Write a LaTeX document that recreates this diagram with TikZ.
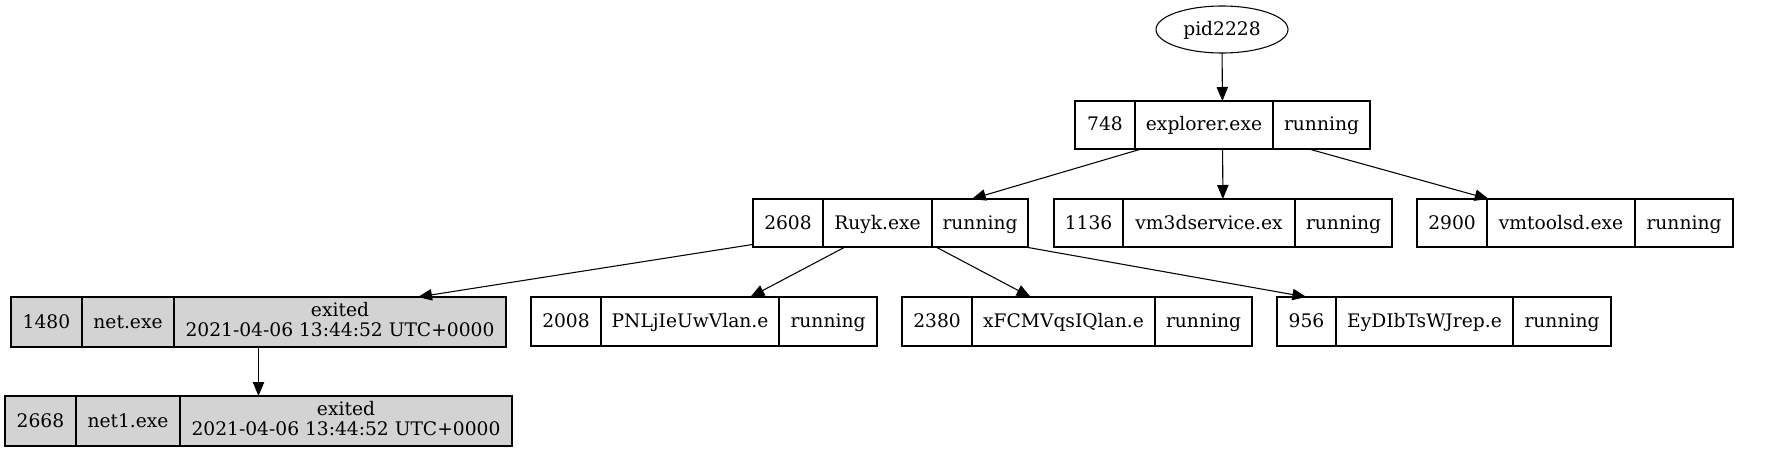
\documentclass[tikz,border=0pt]{standalone}
\usepackage{fontspec}
\setmainfont{DejaVu Serif}
\usetikzlibrary{shapes.geometric,arrows.meta}
\definecolor{gvgray}{HTML}{D3D3D3}
\tikzset{
  rec/.style={draw=black,line width=0.8pt,inner sep=0pt,outer sep=0pt,rectangle},
  grayrec/.style={fill=gvgray},
  recline/.style={draw=black,line width=0.8pt},
  txt/.style={inner sep=0pt,outer sep=0pt,text height=12pt,text depth=3pt,font=\fontsize{14}{16}\selectfont},
  edge/.style={draw=black,line width=0.8pt,-{Triangle[length=10.5pt,width=8.5pt]}},
  ell/.style={draw=black,line width=0.8pt,ellipse,inner sep=0pt,outer sep=0pt,minimum width=99pt,minimum height=35.25pt}
}
\newcommand\recbox[6]{%
  \def\rn{#2}\def\rxa{#3}\def\rxb{#4}\def\rya{#5}\def\ryb{#6}%
  \node[rec,#1,minimum width={(#4-#3)*0.75pt},minimum height={(#6-#5)*0.75pt}] (#2) at ({(#3+#4)/2},{(#5+#6)/2}) {};}
\newcommand\recfields[5]{%
  \draw[recline] (#1,\rya) -- (#1,\ryb);
  \draw[recline] (#2,\rya) -- (#2,\ryb);
  \node[txt] (\rn-1) at ({(\rxa+#1)/2},{(\rya+\ryb)/2}) {#3};
  \node[txt] (\rn-2) at ({(#1+#2)/2},{(\rya+\ryb)/2}) {#4};
  \node[txt] (\rn-3) at ({(#2+\rxb)/2},{(\rya+\ryb)/2}) {#5};}
\newcommand\recfieldsx[6]{%
  \draw[recline] (#1,\rya) -- (#1,\ryb);
  \draw[recline] (#2,\rya) -- (#2,\ryb);
  \node[txt] (\rn-1) at ({(\rxa+#1)/2},{(\rya+\ryb)/2}) {#3};
  \node[txt] (\rn-2) at ({(#1+#2)/2},{(\rya+\ryb)/2}) {#4};
  \node[txt] (\rn-3a) at ({(#2+\rxb)/2},{(\rya+\ryb)/2-11.3}) {#5};
  \node[txt] (\rn-3b) at ({(#2+\rxb)/2},{(\rya+\ryb)/2+8.7}) {#6};}
\begin{document}
\begin{tikzpicture}[x=0.75pt,y=-0.75pt]
\useasboundingbox (0,0) rectangle (1775,453);
% root
\node[ell] (pid) at (1222,29.5) {};
\node[txt] (pidtxt) at (1222,29.5) {pid2228};
% level 1
\recbox{}{explorer}{1075}{1370}{101}{149}
\recfields{1135}{1273}{748}{explorer.exe}{running}
% level 2
\recbox{}{ruyk}{753}{1028}{199}{247}
\recfields{823}{932}{2608}{Ruyk.exe}{running}
\recbox{}{vmthree}{1054}{1392}{199}{247}
\recfields{1123}{1295}{1136}{vm3dservice.ex}{running}
\recbox{}{vmtools}{1417}{1733}{199}{247}
\recfields{1487}{1635}{2900}{vmtoolsd.exe}{running}
% level 3
\recbox{grayrec}{net}{11}{506}{297}{347}
\recfieldsx{82}{174}{1480}{net.exe}{exited}{2021-04-06 13:44:52 UTC+0000}
\recbox{}{pnl}{531}{877}{297}{346}
\recfields{601}{779}{2008}{PNLjIeUwVlan.e}{running}
\recbox{}{xfc}{902}{1252}{297}{346}
\recfields{972}{1155}{2380}{xFCMVqsIQlan.e}{running}
\recbox{}{eyd}{1277}{1611}{297}{346}
\recfields{1336}{1513}{956}{EyDIbTsWJrep.e}{running}
% level 4
\recbox{grayrec}{netone}{5}{512}{396}{446}
\recfieldsx{76}{180}{2668}{net1.exe}{exited}{2021-04-06 13:44:52 UTC+0000}
% edges
\draw[edge] (pid) -- (explorer);
\draw[edge] (explorer) -- (ruyk);
\draw[edge] (explorer) -- (vmthree);
\draw[edge] (explorer) -- (vmtools);
\draw[edge] (ruyk) -- (net);
\draw[edge] (ruyk) -- (pnl);
\draw[edge] (ruyk) -- (xfc);
\draw[edge] (ruyk) -- (eyd);
\draw[edge] (net) -- (netone);
\end{tikzpicture}
\end{document}
